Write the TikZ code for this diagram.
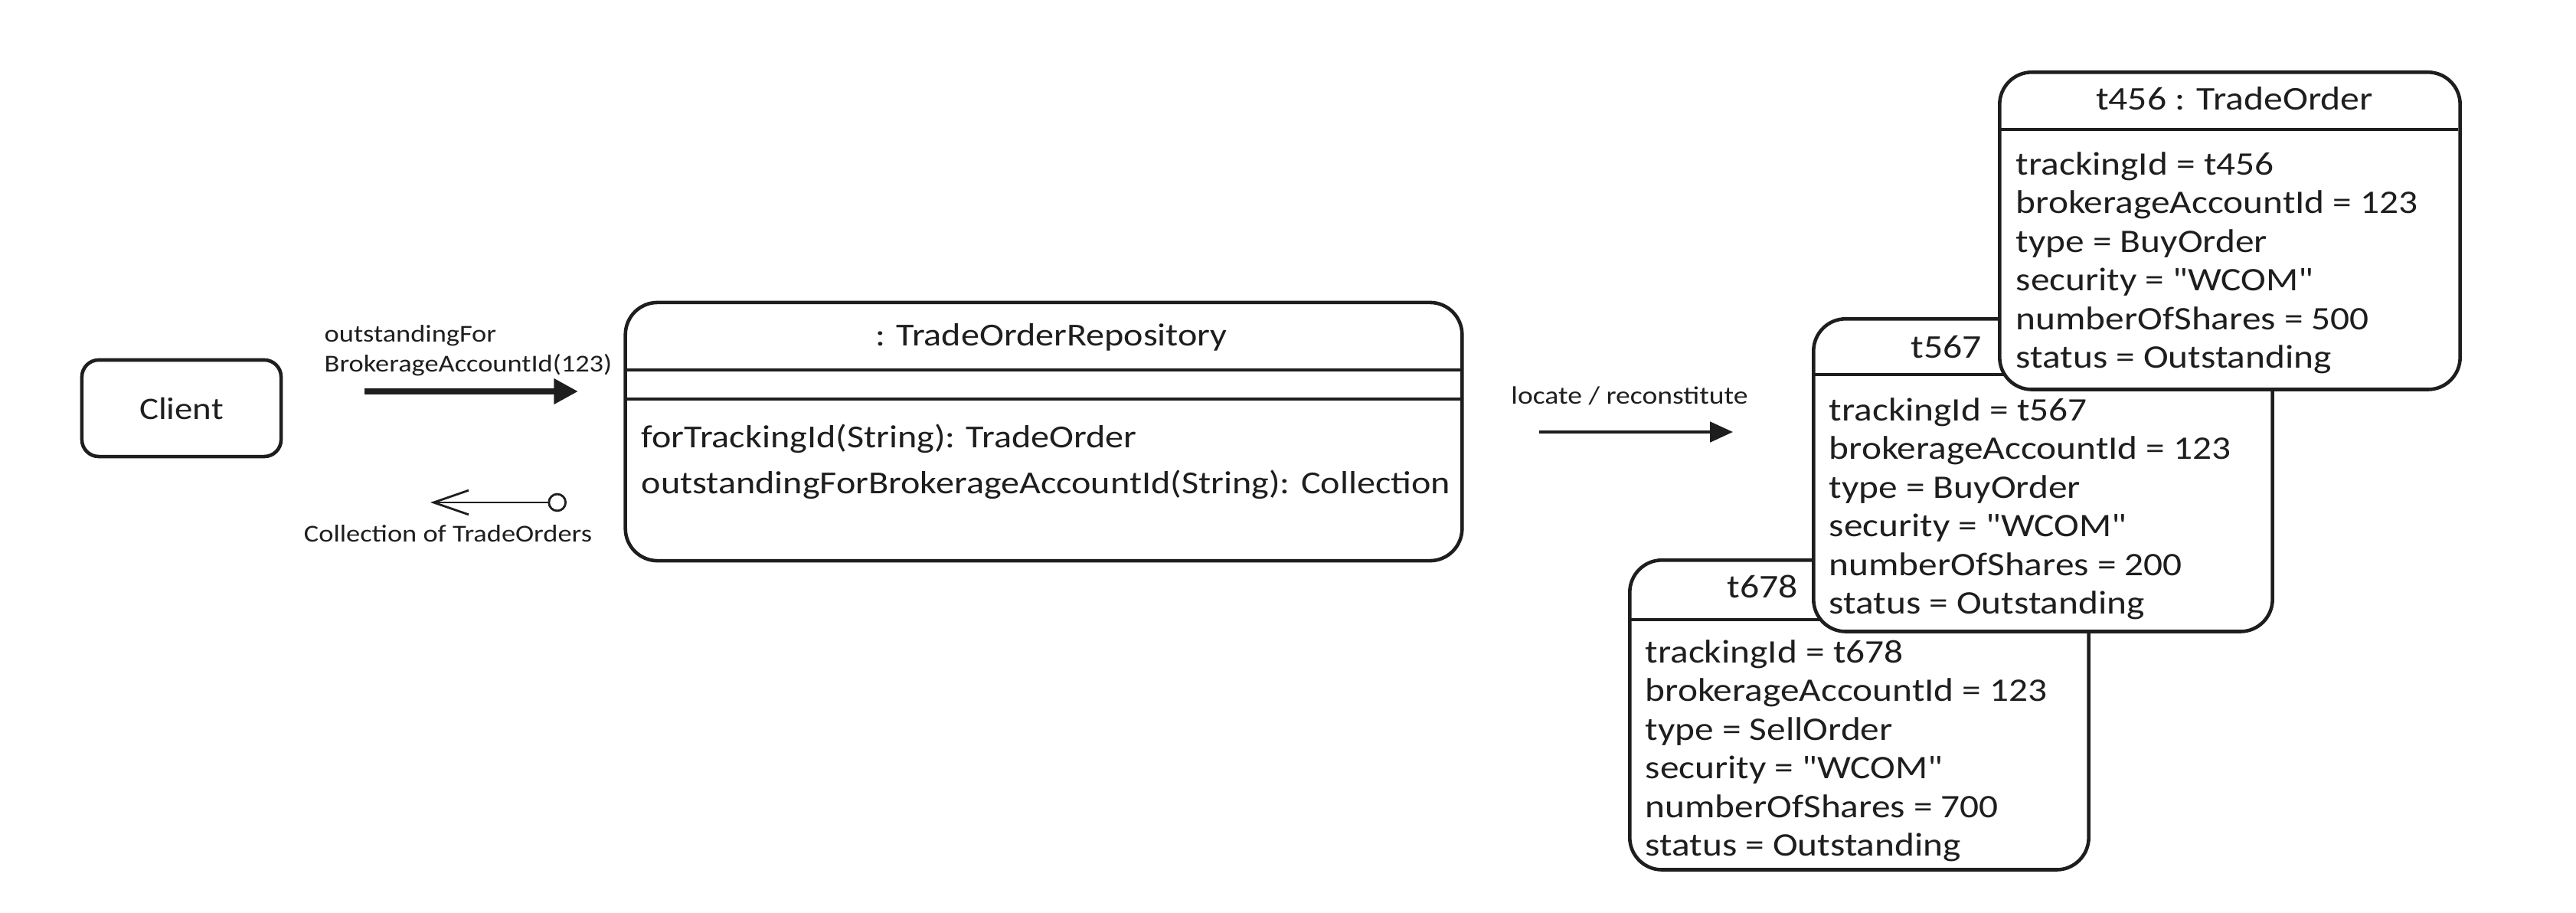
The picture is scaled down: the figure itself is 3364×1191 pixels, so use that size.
\documentclass[tikz,border=0pt]{standalone}
\usepackage{fontspec}
\setmainfont[FakeStretch=1.15, Ligatures=TeXOff]{Carlito}
\usetikzlibrary{arrows.meta}
\definecolor{ink}{RGB}{30,30,30}
\begin{document}
\begin{tikzpicture}[x=0.01cm,y=-0.01cm,
  box/.style={draw=ink, line width=1.3pt, rounded corners=0.42cm, fill=white, inner sep=0pt},
  sep/.style={draw=ink, line width=1.3pt},
  small/.style={font=\fontsize{9}{10.9}\selectfont, text=ink, inner sep=0pt},
  big/.style={font=\fontsize{11.9}{17}\selectfont, text=ink, inner sep=0pt},
  attr/.style={font=\fontsize{12.2}{14.35}\selectfont, text=ink, inner sep=0pt, align=left, anchor=north west},
  head/.style={font=\fontsize{12.3}{14.3}\selectfont, text=ink, inner sep=0pt}
]
\useasboundingbox (0,0) rectangle (3364,1191);

% Client
\node[box, rounded corners=0.22cm, minimum width=2.6cm, minimum height=1.26cm,
      font=\fontsize{11.6}{14}\selectfont, text=ink] (client) at (237,533) {Client};

% call label and arrow
\node[small, align=left, anchor=north west] (calllbl) at (423,424)
  {outstandingFor\\BrokerageAccountId(123)};
\coordinate (a1s) at (476,511);
\coordinate (a1e) at (755,511);
\draw[draw=ink, line width=2.3pt, -{Triangle[length=9pt,width=9pt]}] (a1s) -- (a1e);

% return arrow and label
\coordinate (a2s) at (740,656);
\coordinate (a2e) at (562,656);
\draw[draw=ink, line width=0.8pt,
  {Circle[open,length=7pt,width=7pt]}-{Straight Barb[length=13pt,width=9pt]}] (a2s) -- (a2e);
\node[small] (retlbl) at (585,697) {Collection of TradeOrders};

% Repository
\node[box, minimum width=10.92cm, minimum height=3.37cm] (repo) at (1363,563.5) {};
\coordinate (r1w) at (817,483); \coordinate (r1e) at (1909,483);
\coordinate (r2w) at (817,521); \coordinate (r2e) at (1909,521);
\draw[sep] (r1w) -- (r1e);
\draw[sep] (r2w) -- (r2e);
\node[big] (repotitle) at (1373,440) {: TradeOrderRepository};
\node[big, anchor=west] (m1) at (837,573) {forTrackingId(String): TradeOrder};
\node[big, anchor=west] (m2) at (837,633) {outstandingForBrokerageAccountId(String): Collection};

% locate arrow
\node[small, font=\fontsize{9.3}{11}\selectfont] (loclbl) at (2128,517) {locate / reconstitute};
\coordinate (a3s) at (2010,564);
\coordinate (a3e) at (2263,564);
\draw[draw=ink, line width=1.1pt, -{Triangle[length=8.5pt,width=7.5pt]}] (a3s) -- (a3e);

% t678
\node[box, minimum width=5.99cm, minimum height=4.04cm, anchor=north west] (o3) at (2126,729) {};
\coordinate (o3l) at (2126,809); \coordinate (o3r) at (2725,809);
\draw[sep] (o3l) -- (o3r);
\node[head] (o3t) at (2302,766) {t678};
\node[attr] (o3a) at (2148,835) {trackingId = t678\\brokerageAccountId = 123\\type = SellOrder\\security = "WCOM"\\numberOfShares = 700\\status = Outstanding};

% t567
\node[box, minimum width=5.99cm, minimum height=4.08cm, anchor=north west] (o2) at (2366,414) {};
\coordinate (o2l) at (2366,489); \coordinate (o2r) at (2965,489);
\draw[sep] (o2l) -- (o2r);
\node[head] (o2t) at (2542,453) {t567};
\node[attr] (o2a) at (2388,519) {trackingId = t567\\brokerageAccountId = 123\\type = BuyOrder\\security = "WCOM"\\numberOfShares = 200\\status = Outstanding};

% t456
\node[box, minimum width=6.01cm, minimum height=4.14cm, anchor=north west] (o1) at (2609,92) {};
\coordinate (o1l) at (2609,169); \coordinate (o1r) at (3210,169);
\draw[sep] (o1l) -- (o1r);
\node[head] (o1t) at (2918,129) {t456 : TradeOrder};
\node[attr] (o1a) at (2632,198) {trackingId = t456\\brokerageAccountId = 123\\type = BuyOrder\\security = "WCOM"\\numberOfShares = 500\\status = Outstanding};
\end{tikzpicture}
\end{document}
